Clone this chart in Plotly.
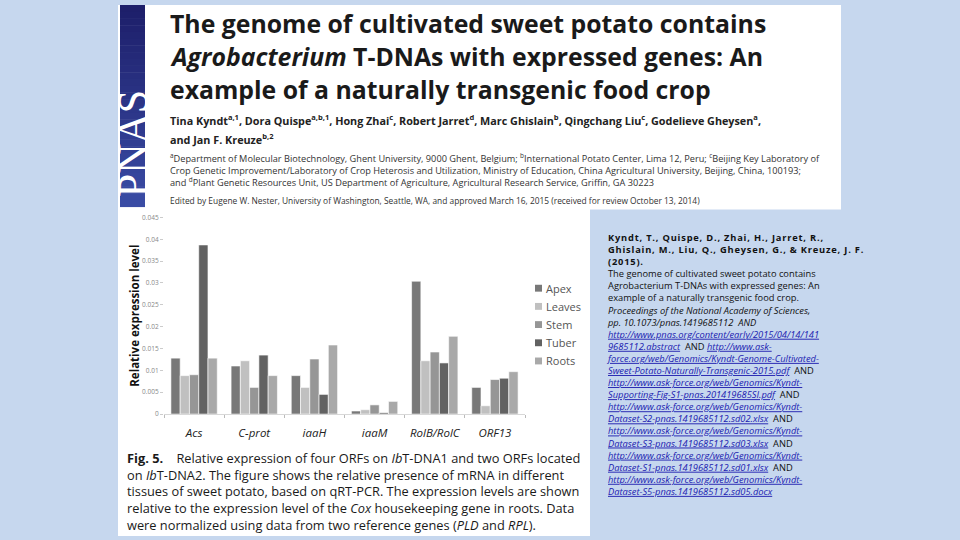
import plotly.graph_objects as go

W, H = 960, 540

# ---------------- data ----------------
genes = ["Acs", "C-prot", "iaaH", "iaaM", "RolB/RolC", "ORF13"]
tissues = ["Apex", "Leaves", "Stem", "Tuber", "Roots"]
apex = [0.0128, 0.0110, 0.0088, 0.0007, 0.0304, 0.0061]
leaves = [0.0088, 0.0122, 0.0061, 0.0010, 0.0122, 0.0019]
stem = [0.0090, 0.0061, 0.0126, 0.0021, 0.0142, 0.0079]
tuber = [0.0387, 0.0135, 0.0045, 0.0003, 0.0117, 0.0082]
roots = [0.0128, 0.0088, 0.0158, 0.0029, 0.0178, 0.0097]
series_values = [apex, leaves, stem, tuber, roots]
tissue_colors = ["#787878", "#c0c0c0", "#969696", "#626262", "#a9a9a9"]
y_ticks = [0, 0.005, 0.01, 0.015, 0.02, 0.025, 0.03, 0.035, 0.04, 0.045]
y_tick_labels = ["0", "0.005", "0.01", "0.015", "0.02", "0.025", "0.03", "0.035", "0.04", "0.045"]


def px(x):
    return x / W


def py(y):
    return 1 - y / H


fig = go.Figure()
for name, vals, col in zip(tissues, series_values, tissue_colors):
    fig.add_trace(go.Bar(x=genes, y=vals, name=name, marker=dict(color=col, line=dict(color="white", width=0.6)),
                         showlegend=False))

BG = "#c6d7ee"
shapes = []
# white panels
shapes.append(dict(type="rect", xref="paper", yref="paper", x0=px(118), x1=px(841), y0=py(208), y1=py(0),
                   fillcolor="white", line=dict(width=0), layer="below"))
shapes.append(dict(type="rect", xref="paper", yref="paper", x0=px(118), x1=px(590), y0=py(540), y1=py(207),
                   fillcolor="white", line=dict(width=0), layer="below"))
# PNAS logo gradient
n = 30
top_c = (0x1e, 0x1f, 0x6a)
bot_c = (0x3a, 0x4c, 0xa4)
for i in range(n):
    t = i / (n - 1)
    c = tuple(int(top_c[k] + (bot_c[k] - top_c[k]) * t) for k in range(3))
    y0 = 205 * i / n
    y1 = 205 * (i + 1) / n + 0.5
    shapes.append(dict(type="rect", xref="paper", yref="paper", x0=px(120), x1=px(145), y0=py(y1), y1=py(y0),
                       fillcolor="rgb(%d,%d,%d)" % c, line=dict(width=0), layer="below"))

# manual legend squares
leg_y = [288, 306.5, 325, 343.5, 362]
for col, yy in zip(tissue_colors, leg_y):
    shapes.append(dict(type="rect", xref="paper", yref="paper", x0=px(535), x1=px(542), y0=py(yy + 3.5), y1=py(yy - 3.5),
                       fillcolor=col, line=dict(width=0)))

ann = []


def text(x, y, s, size, color="#1a1a1a", family="Open Sans", xanchor="left", angle=0):
    ann.append(dict(x=px(x), y=py(y), xref="paper", yref="paper", text=s, showarrow=False,
                    xanchor=xanchor, yanchor="middle", align="left", textangle=angle,
                    font=dict(size=size, color=color, family=family)))


# PNAS logo text
text(132.5, 141, "PNAS", 42, color="white", family="Liberation Serif", xanchor="center", angle=-90)

# title
text(168, 18, "<b>The genome of cultivated sweet potato contains</b>", 24.8)
text(168, 52, "<b><i>Agrobacterium</i> T-DNAs with expressed genes: An</b>", 24.8)
text(168, 85, "<b>example of a naturally transgenic food crop</b>", 24.8)

# authors
text(168, 117, "<b>Tina Kyndt<sup>a,1</sup>, Dora Quispe<sup>a,b,1</sup>, Hong Zhai<sup>c</sup>, Robert Jarret<sup>d</sup>, "
               "Marc Ghislain<sup>b</sup>, Qingchang Liu<sup>c</sup>, Godelieve Gheysen<sup>a</sup>,</b>", 10.8, "#222")
text(168, 136, "<b>and Jan F. Kreuze<sup>b,2</sup></b>", 10.8, "#222")

aff = [
    "<sup>a</sup>Department of Molecular Biotechnology, Ghent University, 9000 Ghent, Belgium; <sup>b</sup>International Potato Center, Lima 12, Peru; <sup>c</sup>Beijing Key Laboratory of",
    "Crop Genetic Improvement/Laboratory of Crop Heterosis and Utilization, Ministry of Education, China Agricultural University, Beijing, China, 100193;",
    "and <sup>d</sup>Plant Genetic Resources Unit, US Department of Agriculture, Agricultural Research Service, Griffin, GA 30223",
]
text(168, 168, "<br>".join(aff), 9.2, "#333")
text(168, 199, "Edited by Eugene W. Nester, University of Washington, Seattle, WA, and approved March 16, 2015 (received for review October 13, 2014)",
     8.4, "#333")

# caption
cap = [
    "<b>Fig. 5.</b>\u00a0\u00a0\u00a0 Relative expression of four ORFs on <i>Ib</i>T-DNA1 and two ORFs located",
    "on <i>Ib</i>T-DNA2. The figure shows the relative presence of mRNA in different",
    "tissues of sweet potato, based on qRT-PCR. The expression levels are shown",
    "relative to the expression level of the <i>Cox</i> housekeeping gene in roots. Data",
    "were normalized using data from two reference genes (<i>PLD</i> and <i>RPL</i>).",
]
text(125, 495, "<br>".join(cap), 12.8, "#1a1a1a")

# citation block
LC = "#2020b0"


def link(s):
    return '<span style="text-decoration:underline;color:%s"><i>%s</i></span>' % (LC, s)


def wide_bold(s):
    return '<span style="letter-spacing:0.8px"><b>%s</b></span>' % s


cite = [
    wide_bold("Kyndt, T., Quispe, D., Zhai, H., Jarret, R.,"),
    wide_bold("Ghislain, M., Liu, Q., Gheysen, G., &amp; Kreuze, J. F."),
    wide_bold("(2015)."),
    "The genome of cultivated sweet potato contains",
    "Agrobacterium T-DNAs with expressed genes: An",
    "example of a naturally transgenic food crop.",
    "<i>Proceedings of the National Academy of Sciences,</i>",
    "<i>pp. 10.1073/pnas.1419685112\u00a0 AND</i>",
    link("http://www.pnas.org/content/early/2015/04/14/141"),
    link("9685112.abstract") + "\u00a0 AND " + link("http://www.ask-"),
    link("force.org/web/Genomics/Kyndt-Genome-Cultivated-"),
    link("Sweet-Potato-Naturally-Transgenic-2015.pdf") + "\u00a0 AND",
    link("http://www.ask-force.org/web/Genomics/Kyndt-"),
    link("Supporting-Fig-S1-pnas.201419685SI.pdf") + "\u00a0 AND",
    link("http://www.ask-force.org/web/Genomics/Kyndt-"),
    link("Dataset-S2-pnas.1419685112.sd02.xlsx") + "\u00a0 AND",
    link("http://www.ask-force.org/web/Genomics/Kyndt-"),
    link("Dataset-S3-pnas.1419685112.sd03.xlsx") + "\u00a0 AND",
    link("http://www.ask-force.org/web/Genomics/Kyndt-"),
    link("Dataset-S1-pnas.1419685112.sd01.xlsx") + "\u00a0 AND",
    link("http://www.ask-force.org/web/Genomics/Kyndt-"),
    link("Dataset-S5-pnas.1419685112.sd05.docx"),
]
text(604, 366, "<br>".join(cite), 9.3, "#111")

# y-axis title
text(135, 316, "<b>Relative expression level</b>", 11.5, "#111", xanchor="center", angle=-90)

# legend labels
for name, yy in zip(tissues, leg_y):
    text(544, yy, name, 11, "#555")

fig.update_layout(
    width=W, height=H, margin=dict(l=0, r=0, t=0, b=0),
    paper_bgcolor=BG, plot_bgcolor="rgba(0,0,0,0)",
    barmode="group", bargap=0.23, bargroupgap=0,
    shapes=shapes, annotations=ann, showlegend=False,
    xaxis=dict(domain=[px(164), px(525)], tickvals=genes, ticktext=["<i>%s</i>" % g for g in genes],
               tickfont=dict(family="Open Sans", size=11.5, color="#222"), tickangle=0,
               showline=True, linecolor="#d8d8d8", linewidth=1,
               ticks="outside", tickson="boundaries", ticklen=3, tickcolor="#bbbbbb",
               ticklabelstandoff=8, showgrid=False, zeroline=False),
    yaxis=dict(domain=[py(416), py(216)], range=[0, 0.045], tickvals=y_ticks, ticktext=y_tick_labels,
               tickfont=dict(family="Open Sans", size=6.5, color="#888"),
               ticks="outside", ticklen=3, tickcolor="#cccccc", showgrid=False, zeroline=False, showline=False),
)

fig.write_html("out.html", config={"displayModeBar": False},
               post_script="document.body.style.margin='0';document.body.style.overflow='hidden';")
